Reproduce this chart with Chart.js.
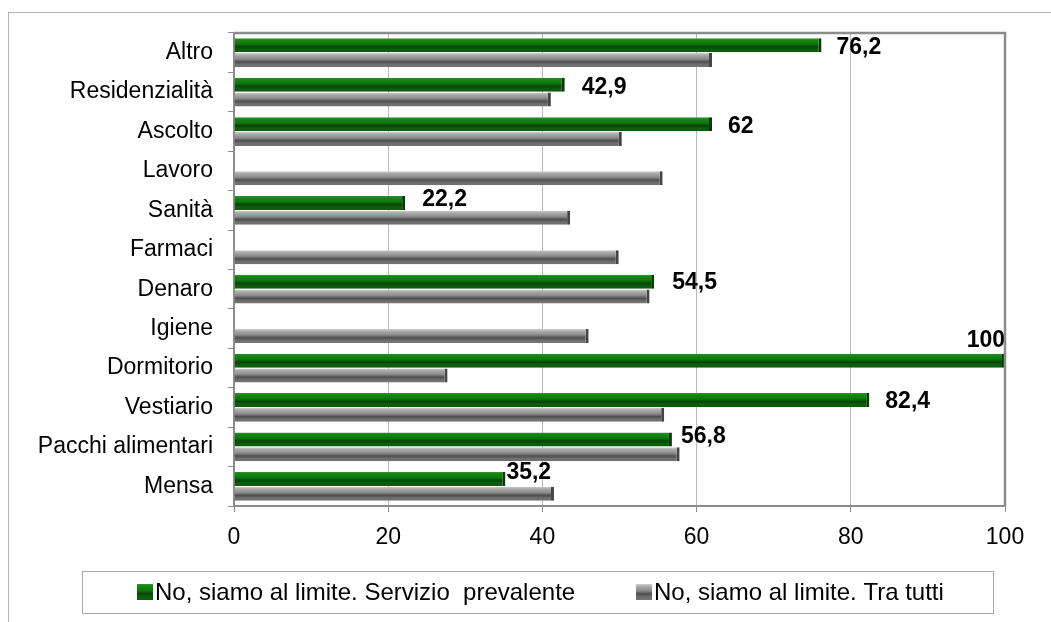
<!DOCTYPE html>
<html>
<head>
<meta charset="utf-8">
<script src="https://cdn.jsdelivr.net/npm/chart.js@4/dist/chart.umd.min.js"></script>
<style>
  html, body { margin: 0; padding: 0; background: #fff; }
  #wrap { width: 1051px; height: 622px; }
</style>
</head>
<body>
<div id="wrap"><canvas id="grafico" width="1051" height="622"></canvas></div>
<script>
// Categorie, dall'alto verso il basso
const categorie = ['Altro', 'Residenzialità', 'Ascolto', 'Lavoro', 'Sanità', 'Farmaci',
  'Denaro', 'Igiene', 'Dormitorio', 'Vestiario', 'Pacchi alimentari', 'Mensa'];

// Serie verde: servizio prevalente (null = nessun valore)
const servizioPrevalente = [76.2, 42.9, 62, null, 22.2, null, 54.5, null, 100, 82.4, 56.8, 35.2];

// Serie grigia: tra tutti
const traTutti = [62, 41.1, 50.3, 55.6, 43.6, 49.9, 53.9, 46, 27.7, 55.8, 57.8, 41.5];

const nomiSerie = ['No, siamo al limite. Servizio  prevalente', 'No, siamo al limite. Tra tutti'];
const ticksX = [0, 20, 40, 60, 80, 100];

const FONT = '"Liberation Sans", Arial, sans-serif';

// Spostamento delle etichette rispetto alla fine della barra verde
const posEtichette = [
  { dx: 15, dy: 2 }, { dx: 17, dy: 3 }, { dx: 16, dy: 3 }, null,
  { dx: 17, dy: -3 }, null, { dx: 18, dy: 1 }, null,
  { dx: 0, dy: -20, align: 'right' }, { dx: 16, dy: 2 }, { dx: 9, dy: -3 }, { dx: 1, dy: -6 }
];

// Colori "3D" delle barre (sfumatura verticale)
const stopsVerde = [[0, '#3d8f3d'], [0.12, '#138a13'], [0.42, '#0c760c'], [0.6, '#0a430a'], [0.8, '#0b5f0b'], [1, '#0d5a0d']];
const stopsGrigio = [[0, '#cfcfcf'], [0.15, '#ababab'], [0.42, '#8b8b8b'], [0.62, '#4f4f4f'], [0.82, '#6f6f6f'], [1, '#737373']];
const stopsSerie = [stopsVerde, stopsGrigio];

function sfumatura(ctx, top, h, stops) {
  const g = ctx.createLinearGradient(0, top, 0, top + h);
  stops.forEach(([p, c]) => g.addColorStop(p, c));
  return g;
}

// Applica la sfumatura a ogni barra, in base alla sua posizione
const stileBarre = {
  id: 'stileBarre',
  beforeDatasetsDraw(chart) {
    const ctx = chart.ctx;
    chart.data.datasets.forEach((ds, i) => {
      chart.getDatasetMeta(i).data.forEach(el => {
        const top = el.y - el.height / 2;
        el.options = Object.assign({}, el.options, {
          backgroundColor: sfumatura(ctx, top, el.height, stopsSerie[i])
        });
      });
    });
  }
};

// Etichette dei valori della serie verde
const etichette = {
  id: 'etichette',
  afterDatasetsDraw(chart) {
    const ctx = chart.ctx;
    const meta = chart.getDatasetMeta(0);
    ctx.save();
    ctx.font = 'bold 23px ' + FONT;
    ctx.fillStyle = '#000';
    ctx.textBaseline = 'middle';
    meta.data.forEach((el, i) => {
      const v = servizioPrevalente[i];
      const p = posEtichette[i];
      if (v == null || !p) return;
      ctx.textAlign = p.align || 'left';
      ctx.fillText(String(v).replace('.', ','), el.x + p.dx, el.y + p.dy);
    });
    ctx.restore();
  }
};

// Cornice esterna, bordo dell'area del grafico e legenda con riquadro
const cornice = {
  id: 'cornice',
  beforeDraw(chart) {
    const ctx = chart.ctx;
    ctx.save();
    ctx.strokeStyle = '#b4b4b4';
    ctx.lineWidth = 1;
    ctx.strokeRect(8.5, 12.5, chart.width + 20, chart.height + 20);
    ctx.restore();
  },
  afterDraw(chart) {
    const ctx = chart.ctx;
    const a = chart.chartArea;
    ctx.save();
    ctx.strokeStyle = '#8c8c8c';
    ctx.lineWidth = 2.5;
    ctx.beginPath();
    ctx.moveTo(a.left, a.top);
    ctx.lineTo(a.right, a.top);
    ctx.lineTo(a.right, a.bottom);
    ctx.stroke();

    // legenda
    ctx.strokeStyle = '#a8a8a8';
    ctx.lineWidth = 1;
    ctx.strokeRect(82.5, 571.5, 911, 42);
    ctx.font = '24px ' + FONT;
    ctx.textBaseline = 'middle';
    ctx.textAlign = 'left';
    const xs = [137, 636];
    chart.data.datasets.forEach((ds, i) => {
      ctx.fillStyle = sfumatura(ctx, 584, 16, stopsSerie[i]);
      ctx.fillRect(xs[i], 584, 16, 16);
      ctx.fillStyle = '#000';
      ctx.fillText(ds.label, xs[i] + 18, 593);
    });
    ctx.restore();
  }
};

new Chart(document.getElementById('grafico'), {
  type: 'bar',
  data: {
    labels: categorie,
    datasets: [
      {
        label: nomiSerie[0],
        data: servizioPrevalente,
        backgroundColor: '#0c760c',
        borderColor: '#083808',
        borderWidth: { top: 0, right: 3, bottom: 0, left: 0 },
        borderSkipped: false
      },
      {
        label: nomiSerie[1],
        data: traTutti,
        backgroundColor: '#8b8b8b',
        borderColor: '#444444',
        borderWidth: { top: 0, right: 3, bottom: 0, left: 0 },
        borderSkipped: false
      }
    ]
  },
  options: {
    indexAxis: 'y',
    responsive: false,
    animation: false,
    events: [],
    categoryPercentage: 0.75,
    barPercentage: 0.95,
    layout: { padding: { top: 33, right: 46, left: 0, bottom: 0 } },
    plugins: {
      legend: { display: false },
      tooltip: { enabled: false }
    },
    scales: {
      x: {
        min: 0,
        max: 100,
        afterBuildTicks: s => { s.ticks = ticksX.map(v => ({ value: v })); },
        grid: { color: '#bababa', lineWidth: 1, tickLength: 6, tickColor: '#8c8c8c' },
        border: { color: '#8c8c8c', width: 2 },
        ticks: { color: '#000', font: { size: 23, family: FONT }, padding: 12, maxRotation: 0 },
        afterFit: s => { s.height = 116; }
      },
      y: {
        grid: { drawOnChartArea: false, tickLength: 6, offset: true, color: '#8c8c8c' },
        border: { color: '#8c8c8c', width: 2 },
        ticks: { color: '#000', font: { size: 23, family: FONT }, padding: 15, autoSkip: false },
        afterFit: s => { s.width = 234; }
      }
    }
  },
  plugins: [stileBarre, etichette, cornice]
});
</script>
</body>
</html>
